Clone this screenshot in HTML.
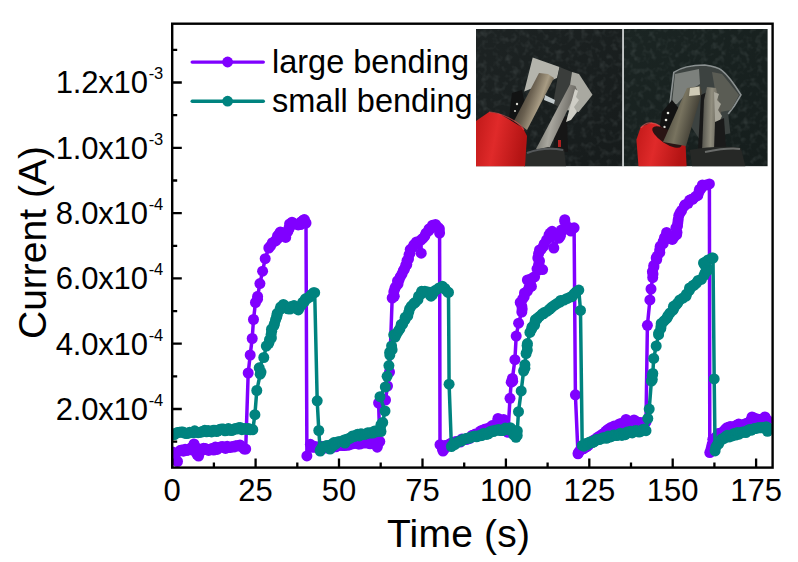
<!DOCTYPE html>
<html><head><meta charset="utf-8"><style>
html,body{margin:0;padding:0;background:#fff;}
svg{display:block;}
text{font-family:"Liberation Sans",sans-serif;fill:#000;}
</style></head><body>
<svg width="798" height="562" viewBox="0 0 798 562">
<rect width="798" height="562" fill="#fff"/>
<defs>
<linearGradient id="bgL" x1="0" y1="0" x2="1" y2="1"><stop offset="0" stop-color="#1d2323"/><stop offset="1" stop-color="#161b1b"/></linearGradient>
<linearGradient id="bgR" x1="0" y1="0" x2="1" y2="1"><stop offset="0" stop-color="#1b2523"/><stop offset="1" stop-color="#151d1c"/></linearGradient>
<filter id="tex" x="0" y="0" width="1" height="1"><feTurbulence type="fractalNoise" baseFrequency="0.16" numOctaves="2" seed="5"/><feColorMatrix values="0 0 0 0 0.45  0 0 0 0 0.52  0 0 0 0 0.52  0 0 0 0.9 -0.42"/></filter>
<linearGradient id="redg" x1="0" y1="0" x2="1" y2="0.2"><stop offset="0" stop-color="#c01818"/><stop offset="0.45" stop-color="#e02a2a"/><stop offset="1" stop-color="#b41414"/></linearGradient>
<linearGradient id="rodA" x1="0.1" y1="0.1" x2="0.9" y2="0.5"><stop offset="0" stop-color="#2a2620"/><stop offset="0.45" stop-color="#6a6050"/><stop offset="0.75" stop-color="#a89c84"/><stop offset="1" stop-color="#585040"/></linearGradient>
<linearGradient id="rodB" x1="0" y1="0" x2="1" y2="0.3"><stop offset="0" stop-color="#55554f"/><stop offset="0.5" stop-color="#a8a69e"/><stop offset="1" stop-color="#62605a"/></linearGradient>
<linearGradient id="rodC" x1="0" y1="0" x2="1" y2="0.4"><stop offset="0" stop-color="#2e2c26"/><stop offset="0.55" stop-color="#78735f"/><stop offset="1" stop-color="#34322b"/></linearGradient>
<linearGradient id="rodD" x1="0" y1="0" x2="1" y2="0.1"><stop offset="0" stop-color="#4a4a44"/><stop offset="0.5" stop-color="#908d7e"/><stop offset="1" stop-color="#55534c"/></linearGradient>
</defs>
<!-- left panel -->
<rect x="476" y="29" width="146.5" height="137.2" fill="url(#bgL)"/>
<!-- right panel -->
<rect x="623.8" y="29" width="143.8" height="137.2" fill="url(#bgR)"/>
<rect x="476" y="29" width="291.6" height="137.2" filter="url(#tex)" opacity="0.35"/>
<rect x="622.3" y="29" width="1.6" height="137.2" fill="#c4c8c8"/>

<!-- ===== LEFT PANEL ===== -->
<!-- film -->
<polygon points="532.7,57.5 559.5,67 557,78 524.2,91.6" fill="#b4b4ac"/>
<polygon points="559.5,67 572,72 566,110 553,104" fill="#3a3d3b"/>
<polygon points="572,72 579,74 592.5,94.8 586,103 578.6,111.9 566,110" fill="#a9a9a1"/>
<!-- black left jaw with teeth -->
<polygon points="512,93 522,90 528,120 518,130 509,118" fill="#121313"/>
<circle cx="517" cy="104" r="1.2" fill="#d8d8d0"/><circle cx="515" cy="111" r="1.1" fill="#c8c8c0"/>
<!-- cross pin -->
<polygon points="545,95 555,100 554,104 544,100" fill="#c2cacc"/>
<!-- left rod -->
<polygon points="539,73 548,74 554,78 527,130 514,121" fill="url(#rodA)"/>
<!-- right jaw -->
<polygon points="556,118 567,116 568,152 553,152" fill="#161616"/>
<rect x="558" y="140" width="3" height="7" fill="#b02020"/>
<polygon points="570,84.5 575.5,86 577,90 548,151 536,149" fill="url(#rodB)"/>
<polygon points="575,89 578,91 576,97 579,100 574,107 577,112 571,120 566,122" fill="#cfcec6"/>
<!-- bottom black handle -->
<polygon points="526,152 548,147 564,149 566,166.2 524,166.2" fill="#2a2c2a"/>
<path d="M527,153 C 538,149 552,148 563,150" stroke="#55585a" stroke-width="2" fill="none"/>
<!-- red cylinder -->
<polygon points="476,121 489,112 500,114 523,128 527,136 525,166.2 476,166.2" fill="url(#redg)"/>
<path d="M489,112 C 500,112 520,122 524,130" stroke="#f05050" stroke-width="1.2" fill="none" opacity="0.6"/>

<!-- ===== RIGHT PANEL ===== -->
<!-- film outer -->
<path d="M669.5,107.7 L673.8,72.4 C 680,68 692,65 704.7,65 C 712,66 719,68 721.8,70.3 C 728,75 733,82 741,94.8 L734.6,105.5 L728.2,114 L730.4,133.3 L700,140 L680,110 Z" fill="#3c4240"/>
<path d="M669.5,107.7 L673.8,72.4 C 680,68 692,65 704.7,65 C 712,66 719,68 721.8,70.3 C 728,75 733,82 741,94.8 L734.6,105.5 L728.2,114" stroke="#8a9090" stroke-width="1.6" fill="none"/>
<polygon points="675,74 699,69 700,84 688,92 677,104 672,104" fill="#7c807c"/>
<polygon points="712,72 722,74 739,95 731,110 720,112 716,96" fill="#5a5c54"/>
<!-- black jaw with white teeth -->
<polygon points="662,112 672,100 682,112 668,142 658,138" fill="#121212"/>
<circle cx="668" cy="113" r="1.3" fill="#e8e8e0"/><circle cx="666" cy="120" r="1.3" fill="#e8e8e0"/><circle cx="664.5" cy="127" r="1.2" fill="#d8d8d0"/>
<!-- red cylinder -->
<polygon points="638.5,166.2 636.4,139.7 640.7,126.9 651.4,122.6 657.8,124.7 685.5,144 686.6,166.2" fill="url(#redg)"/>
<ellipse cx="667" cy="137" rx="17" ry="6.5" transform="rotate(33 667 137)" fill="#2a1414"/>
<path d="M641,128 C 645,122 653,121 660,126" stroke="#f06060" stroke-width="1.3" fill="none" opacity="0.6"/>
<!-- left rod (dark olive) -->
<polygon points="687,88 700,86 702,92 686,146 663,142" fill="url(#rodC)"/>
<polygon points="690,88 699.5,86.5 700,95 689,96" fill="#cfcab6"/>
<!-- gap between rods -->
<polygon points="701,95 707,92 704,150 698,150" fill="#181818"/>
<!-- right jaw -->
<polygon points="707,87 716,88 721,110 722,150 702,152 704,100" fill="url(#rodD)"/>
<polygon points="714,92 719,94 717,100 721,104 718,110 722,116 719,122 722,128 718,134 720,142 716,146" fill="#a8a69a"/>
<polygon points="715,122 724,118 726,148 714,150" fill="#1a1a1a"/>
<!-- bottom handle -->
<path d="M689.8,150 C 710,146 730,146 741,148 L745.3,166.2 L692,166.2 Z" fill="#262826"/>
<path d="M705,152 C 720,149 732,148 740,149" stroke="#6a6c6a" stroke-width="2" fill="none"/>
<defs><clipPath id="pc"><rect x="172.2" y="23.7" width="600.4" height="443.9"/></clipPath></defs><g clip-path="url(#pc)"><path d="M172.6 452.0 L172.9 453.1 L175.0 455.0 L174.9 457.6 L177.5 461.5 L180.0 450.6 L181.7 449.9 L183.4 451.2 L185.1 449.3 L186.7 450.5 L188.4 449.8 L190.1 448.7 L191.8 449.9 L191.5 447.6 L194.0 444.0 L194.7 445.9 L195.2 449.5 L196.8 448.4 L197.4 452.1 L196.9 454.3 L198.6 456.0 L199.2 452.6 L200.2 449.3 L201.9 450.4 L203.6 448.2 L205.3 448.4 L206.9 449.5 L208.6 450.4 L210.3 449.2 L212.0 448.5 L213.7 450.1 L215.4 447.1 L217.1 449.4 L218.7 447.5 L220.4 446.9 L222.1 446.6 L223.8 447.0 L225.5 448.4 L227.2 446.3 L228.8 447.4 L230.5 447.4 L232.2 446.6 L233.9 447.1 L235.6 445.7 L237.3 445.7 L238.9 446.1 L240.0 445.0 L242.3 446.8 L244.2 449.0 L245.7 449.0 L248.2 373.0 L250.2 355.0 L252.2 338.5 L253.5 319.5 L255.5 302.5 L257.5 299.2 L257.6 296.5 L259.9 283.6 L262.6 271.2 L265.2 258.7 L268.8 248.0 L270.6 245.9 L272.4 242.7 L275.6 240.9 L276.0 240.0 L277.7 238.6 L277.5 236.0 L279.3 233.7 L280.4 232.0 L281.3 232.5 L283.0 235.5 L285.7 237.4 L285.6 233.5 L287.5 232.0 L288.9 229.3 L289.0 228.0 L289.6 223.9 L292.0 222.2 L295.0 224.0 L298.2 224.9 L300.6 224.5 L301.0 222.0 L303.2 220.2 L304.4 219.6 L306.0 223.0 L306.9 455.9 L310.4 444.3 L312.0 447.3 L313.7 446.9 L315.4 446.4 L317.1 447.9 L318.8 447.6 L320.6 446.2 L322.3 447.2 L324.0 447.1 L325.7 448.1 L327.4 447.7 L329.1 446.4 L330.8 448.3 L332.5 445.4 L334.2 446.1 L335.9 446.8 L337.7 444.7 L339.4 445.5 L341.1 443.8 L342.8 445.5 L344.5 445.5 L346.2 444.6 L347.9 445.3 L349.6 443.3 L351.3 444.2 L353.1 443.6 L354.8 443.3 L356.5 442.8 L358.2 443.9 L359.9 444.1 L361.6 442.6 L363.3 443.1 L365.0 441.2 L366.7 443.1 L368.4 442.8 L370.2 443.8 L371.9 443.2 L373.6 441.5 L375.3 441.7 L375.5 443.9 L377.2 447.2 L378.4 443.3 L379.8 441.4 L378.6 403.0 L381.9 400.8 L385.5 400.0 L387.5 386.0 L389.5 372.0 L392.2 298.0 L394.3 296.3 L393.8 292.0 L394.8 288.7 L395.6 286.9 L398.0 284.1 L397.5 280.9 L399.0 280.0 L400.2 276.9 L402.0 274.0 L403.3 270.7 L404.5 269.0 L405.7 265.4 L406.8 264.5 L407.0 260.6 L408.5 259.0 L409.0 254.8 L410.0 253.2 L410.2 249.6 L413.0 247.0 L414.0 244.7 L416.4 242.0 L421.2 253.2 L421.0 240.0 L422.7 238.4 L424.8 236.1 L426.0 233.2 L428.6 230.8 L429.0 229.0 L430.3 228.5 L432.5 225.2 L435.5 224.5 L435.9 226.7 L438.3 227.6 L439.4 229.0 L439.6 233.0 L440.0 444.7 L442.4 448.9 L443.0 451.0 L444.4 448.9 L445.0 445.6 L446.7 446.2 L448.4 444.7 L450.1 443.8 L451.7 443.0 L453.4 444.4 L455.1 441.8 L456.8 441.5 L458.5 441.3 L460.2 442.0 L461.9 439.0 L463.5 439.4 L465.2 439.1 L466.9 439.4 L468.6 438.5 L470.3 438.0 L472.0 435.4 L473.7 435.0 L475.3 434.1 L477.0 434.9 L478.7 434.3 L480.4 431.1 L482.1 430.4 L483.8 429.8 L485.5 429.0 L487.1 429.1 L488.8 428.7 L490.5 427.1 L492.2 425.6 L493.9 426.2 L495.6 425.4 L497.7 420.9 L498.0 418.5 L498.5 422.2 L498.9 425.8 L500.6 424.3 L502.3 422.9 L503.6 419.5 L508.0 432.3 L510.0 398.3 L511.2 382.2 L512.7 381.2 L512.4 378.4 L514.9 359.7 L516.2 336.1 L518.6 323.2 L521.8 312.0 L522.2 309.0 L521.8 306.1 L520.2 302.4 L522.7 298.8 L524.2 296.8 L524.5 293.0 L527.4 291.2 L529.0 287.7 L531.4 286.4 L530.3 283.4 L527.4 280.0 L530.2 279.3 L532.7 277.8 L534.6 276.8 L542.6 269.6 L538.4 270.0 L537.0 268.8 L538.5 266.2 L538.8 264.0 L539.5 261.0 L537.8 258.0 L538.6 253.6 L539.5 250.0 L541.1 249.4 L543.4 246.4 L544.2 243.9 L546.6 240.0 L549.1 237.5 L549.0 235.0 L550.2 233.1 L552.1 231.3 L553.8 248.0 L559.0 238.2 L560.3 236.2 L560.9 233.2 L561.3 230.1 L564.8 219.7 L564.8 221.4 L566.4 225.8 L568.3 227.8 L569.1 229.6 L571.0 231.0 L571.2 228.2 L574.1 227.8 L575.4 394.8 L578.0 453.8 L578.4 452.6 L580.0 450.5 L581.7 447.7 L583.4 448.8 L585.1 447.4 L586.8 446.5 L588.6 445.2 L590.3 443.0 L592.0 442.0 L593.7 440.1 L595.4 440.3 L597.1 437.7 L598.8 436.6 L600.5 435.8 L602.2 434.3 L603.9 433.4 L605.7 431.3 L607.4 429.8 L609.1 428.8 L610.8 427.6 L612.5 427.5 L614.2 425.9 L615.9 427.3 L617.6 425.9 L619.3 423.9 L621.1 423.6 L622.8 423.4 L624.5 423.0 L625.8 421.8 L626.0 419.5 L626.4 421.5 L627.9 423.4 L629.6 423.4 L631.3 422.0 L633.0 422.3 L634.0 420.0 L636.4 421.6 L638.2 422.4 L639.9 422.4 L641.6 424.0 L643.3 422.4 L645.0 422.3 L646.0 422.0 L647.4 325.3 L649.9 299.9 L651.0 289.0 L652.7 277.5 L653.0 273.9 L652.4 271.7 L653.9 267.1 L653.8 265.4 L656.7 259.6 L656.2 257.9 L657.3 256.1 L659.8 252.4 L659.7 249.8 L660.2 246.3 L663.2 243.6 L663.1 241.7 L664.5 237.6 L665.5 236.8 L666.6 232.4 L667.0 235.1 L669.5 236.0 L671.0 238.8 L672.4 239.4 L674.5 236.3 L676.6 234.7 L677.0 232.4 L675.9 227.8 L677.5 226.0 L677.8 222.7 L678.2 219.7 L678.8 215.6 L680.0 213.1 L681.6 210.5 L684.3 206.2 L685.1 204.7 L688.1 203.3 L689.7 200.1 L692.5 199.0 L692.9 199.0 L695.5 196.6 L697.8 195.4 L699.0 192.0 L699.5 189.3 L701.0 188.7 L702.4 185.0 L706.0 185.0 L709.4 183.9 L709.8 452.6 L710.9 449.6 L711.5 447.4 L712.1 444.4 L713.2 442.7 L712.8 439.3 L714.9 438.2 L716.6 436.6 L718.3 433.5 L720.0 433.5 L721.7 433.4 L723.4 431.5 L725.1 429.6 L726.8 427.8 L728.5 427.6 L730.2 426.5 L731.9 427.8 L733.6 426.5 L735.3 426.8 L737.0 424.9 L738.7 424.1 L740.3 425.3 L742.0 425.3 L743.7 424.4 L745.4 423.8 L747.1 423.3 L748.8 422.6 L750.5 420.6 L752.2 418.2 L752.0 417.0 L754.2 418.1 L753.9 420.5 L755.6 419.3 L757.3 419.0 L759.0 419.6 L760.7 419.2 L762.4 420.3 L764.1 420.9 L763.9 419.0 L765.0 417.0 L765.4 418.3 L767.5 420.3" fill="none" stroke="#8000ff" stroke-width="3.5" stroke-linejoin="round"/>
<g fill="#8000ff"><circle cx="172.6" cy="452.0" r="5.5"/><circle cx="172.9" cy="453.1" r="5.5"/><circle cx="175.0" cy="455.0" r="5.5"/><circle cx="174.9" cy="457.6" r="5.5"/><circle cx="177.5" cy="461.5" r="5.5"/><circle cx="180.0" cy="450.6" r="5.5"/><circle cx="181.7" cy="449.9" r="5.5"/><circle cx="183.4" cy="451.2" r="5.5"/><circle cx="185.1" cy="449.3" r="5.5"/><circle cx="186.7" cy="450.5" r="5.5"/><circle cx="188.4" cy="449.8" r="5.5"/><circle cx="190.1" cy="448.7" r="5.5"/><circle cx="191.8" cy="449.9" r="5.5"/><circle cx="191.5" cy="447.6" r="5.5"/><circle cx="194.0" cy="444.0" r="5.5"/><circle cx="194.7" cy="445.9" r="5.5"/><circle cx="195.2" cy="449.5" r="5.5"/><circle cx="196.8" cy="448.4" r="5.5"/><circle cx="197.4" cy="452.1" r="5.5"/><circle cx="196.9" cy="454.3" r="5.5"/><circle cx="198.6" cy="456.0" r="5.5"/><circle cx="199.2" cy="452.6" r="5.5"/><circle cx="200.2" cy="449.3" r="5.5"/><circle cx="201.9" cy="450.4" r="5.5"/><circle cx="203.6" cy="448.2" r="5.5"/><circle cx="205.3" cy="448.4" r="5.5"/><circle cx="206.9" cy="449.5" r="5.5"/><circle cx="208.6" cy="450.4" r="5.5"/><circle cx="210.3" cy="449.2" r="5.5"/><circle cx="212.0" cy="448.5" r="5.5"/><circle cx="213.7" cy="450.1" r="5.5"/><circle cx="215.4" cy="447.1" r="5.5"/><circle cx="217.1" cy="449.4" r="5.5"/><circle cx="218.7" cy="447.5" r="5.5"/><circle cx="220.4" cy="446.9" r="5.5"/><circle cx="222.1" cy="446.6" r="5.5"/><circle cx="223.8" cy="447.0" r="5.5"/><circle cx="225.5" cy="448.4" r="5.5"/><circle cx="227.2" cy="446.3" r="5.5"/><circle cx="228.8" cy="447.4" r="5.5"/><circle cx="230.5" cy="447.4" r="5.5"/><circle cx="232.2" cy="446.6" r="5.5"/><circle cx="233.9" cy="447.1" r="5.5"/><circle cx="235.6" cy="445.7" r="5.5"/><circle cx="237.3" cy="445.7" r="5.5"/><circle cx="238.9" cy="446.1" r="5.5"/><circle cx="240.0" cy="445.0" r="5.5"/><circle cx="242.3" cy="446.8" r="5.5"/><circle cx="244.2" cy="449.0" r="5.5"/><circle cx="245.7" cy="449.0" r="5.5"/><circle cx="248.2" cy="373.0" r="5.5"/><circle cx="250.2" cy="355.0" r="5.5"/><circle cx="252.2" cy="338.5" r="5.5"/><circle cx="253.5" cy="319.5" r="5.5"/><circle cx="255.5" cy="302.5" r="5.5"/><circle cx="257.5" cy="299.2" r="5.5"/><circle cx="257.6" cy="296.5" r="5.5"/><circle cx="259.9" cy="283.6" r="5.5"/><circle cx="262.6" cy="271.2" r="5.5"/><circle cx="265.2" cy="258.7" r="5.5"/><circle cx="268.8" cy="248.0" r="5.5"/><circle cx="270.6" cy="245.9" r="5.5"/><circle cx="272.4" cy="242.7" r="5.5"/><circle cx="275.6" cy="240.9" r="5.5"/><circle cx="276.0" cy="240.0" r="5.5"/><circle cx="277.7" cy="238.6" r="5.5"/><circle cx="277.5" cy="236.0" r="5.5"/><circle cx="279.3" cy="233.7" r="5.5"/><circle cx="280.4" cy="232.0" r="5.5"/><circle cx="281.3" cy="232.5" r="5.5"/><circle cx="283.0" cy="235.5" r="5.5"/><circle cx="285.7" cy="237.4" r="5.5"/><circle cx="285.6" cy="233.5" r="5.5"/><circle cx="287.5" cy="232.0" r="5.5"/><circle cx="288.9" cy="229.3" r="5.5"/><circle cx="289.0" cy="228.0" r="5.5"/><circle cx="289.6" cy="223.9" r="5.5"/><circle cx="292.0" cy="222.2" r="5.5"/><circle cx="295.0" cy="224.0" r="5.5"/><circle cx="298.2" cy="224.9" r="5.5"/><circle cx="300.6" cy="224.5" r="5.5"/><circle cx="301.0" cy="222.0" r="5.5"/><circle cx="303.2" cy="220.2" r="5.5"/><circle cx="304.4" cy="219.6" r="5.5"/><circle cx="306.0" cy="223.0" r="5.5"/><circle cx="306.9" cy="455.9" r="5.5"/><circle cx="310.4" cy="444.3" r="5.5"/><circle cx="312.0" cy="447.3" r="5.5"/><circle cx="313.7" cy="446.9" r="5.5"/><circle cx="315.4" cy="446.4" r="5.5"/><circle cx="317.1" cy="447.9" r="5.5"/><circle cx="318.8" cy="447.6" r="5.5"/><circle cx="320.6" cy="446.2" r="5.5"/><circle cx="322.3" cy="447.2" r="5.5"/><circle cx="324.0" cy="447.1" r="5.5"/><circle cx="325.7" cy="448.1" r="5.5"/><circle cx="327.4" cy="447.7" r="5.5"/><circle cx="329.1" cy="446.4" r="5.5"/><circle cx="330.8" cy="448.3" r="5.5"/><circle cx="332.5" cy="445.4" r="5.5"/><circle cx="334.2" cy="446.1" r="5.5"/><circle cx="335.9" cy="446.8" r="5.5"/><circle cx="337.7" cy="444.7" r="5.5"/><circle cx="339.4" cy="445.5" r="5.5"/><circle cx="341.1" cy="443.8" r="5.5"/><circle cx="342.8" cy="445.5" r="5.5"/><circle cx="344.5" cy="445.5" r="5.5"/><circle cx="346.2" cy="444.6" r="5.5"/><circle cx="347.9" cy="445.3" r="5.5"/><circle cx="349.6" cy="443.3" r="5.5"/><circle cx="351.3" cy="444.2" r="5.5"/><circle cx="353.1" cy="443.6" r="5.5"/><circle cx="354.8" cy="443.3" r="5.5"/><circle cx="356.5" cy="442.8" r="5.5"/><circle cx="358.2" cy="443.9" r="5.5"/><circle cx="359.9" cy="444.1" r="5.5"/><circle cx="361.6" cy="442.6" r="5.5"/><circle cx="363.3" cy="443.1" r="5.5"/><circle cx="365.0" cy="441.2" r="5.5"/><circle cx="366.7" cy="443.1" r="5.5"/><circle cx="368.4" cy="442.8" r="5.5"/><circle cx="370.2" cy="443.8" r="5.5"/><circle cx="371.9" cy="443.2" r="5.5"/><circle cx="373.6" cy="441.5" r="5.5"/><circle cx="375.3" cy="441.7" r="5.5"/><circle cx="375.5" cy="443.9" r="5.5"/><circle cx="377.2" cy="447.2" r="5.5"/><circle cx="378.4" cy="443.3" r="5.5"/><circle cx="379.8" cy="441.4" r="5.5"/><circle cx="378.6" cy="403.0" r="5.5"/><circle cx="381.9" cy="400.8" r="5.5"/><circle cx="385.5" cy="400.0" r="5.5"/><circle cx="387.5" cy="386.0" r="5.5"/><circle cx="389.5" cy="372.0" r="5.5"/><circle cx="392.2" cy="298.0" r="5.5"/><circle cx="394.3" cy="296.3" r="5.5"/><circle cx="393.8" cy="292.0" r="5.5"/><circle cx="394.8" cy="288.7" r="5.5"/><circle cx="395.6" cy="286.9" r="5.5"/><circle cx="398.0" cy="284.1" r="5.5"/><circle cx="397.5" cy="280.9" r="5.5"/><circle cx="399.0" cy="280.0" r="5.5"/><circle cx="400.2" cy="276.9" r="5.5"/><circle cx="402.0" cy="274.0" r="5.5"/><circle cx="403.3" cy="270.7" r="5.5"/><circle cx="404.5" cy="269.0" r="5.5"/><circle cx="405.7" cy="265.4" r="5.5"/><circle cx="406.8" cy="264.5" r="5.5"/><circle cx="407.0" cy="260.6" r="5.5"/><circle cx="408.5" cy="259.0" r="5.5"/><circle cx="409.0" cy="254.8" r="5.5"/><circle cx="410.0" cy="253.2" r="5.5"/><circle cx="410.2" cy="249.6" r="5.5"/><circle cx="413.0" cy="247.0" r="5.5"/><circle cx="414.0" cy="244.7" r="5.5"/><circle cx="416.4" cy="242.0" r="5.5"/><circle cx="421.2" cy="253.2" r="5.5"/><circle cx="421.0" cy="240.0" r="5.5"/><circle cx="422.7" cy="238.4" r="5.5"/><circle cx="424.8" cy="236.1" r="5.5"/><circle cx="426.0" cy="233.2" r="5.5"/><circle cx="428.6" cy="230.8" r="5.5"/><circle cx="429.0" cy="229.0" r="5.5"/><circle cx="430.3" cy="228.5" r="5.5"/><circle cx="432.5" cy="225.2" r="5.5"/><circle cx="435.5" cy="224.5" r="5.5"/><circle cx="435.9" cy="226.7" r="5.5"/><circle cx="438.3" cy="227.6" r="5.5"/><circle cx="439.4" cy="229.0" r="5.5"/><circle cx="439.6" cy="233.0" r="5.5"/><circle cx="440.0" cy="444.7" r="5.5"/><circle cx="442.4" cy="448.9" r="5.5"/><circle cx="443.0" cy="451.0" r="5.5"/><circle cx="444.4" cy="448.9" r="5.5"/><circle cx="445.0" cy="445.6" r="5.5"/><circle cx="446.7" cy="446.2" r="5.5"/><circle cx="448.4" cy="444.7" r="5.5"/><circle cx="450.1" cy="443.8" r="5.5"/><circle cx="451.7" cy="443.0" r="5.5"/><circle cx="453.4" cy="444.4" r="5.5"/><circle cx="455.1" cy="441.8" r="5.5"/><circle cx="456.8" cy="441.5" r="5.5"/><circle cx="458.5" cy="441.3" r="5.5"/><circle cx="460.2" cy="442.0" r="5.5"/><circle cx="461.9" cy="439.0" r="5.5"/><circle cx="463.5" cy="439.4" r="5.5"/><circle cx="465.2" cy="439.1" r="5.5"/><circle cx="466.9" cy="439.4" r="5.5"/><circle cx="468.6" cy="438.5" r="5.5"/><circle cx="470.3" cy="438.0" r="5.5"/><circle cx="472.0" cy="435.4" r="5.5"/><circle cx="473.7" cy="435.0" r="5.5"/><circle cx="475.3" cy="434.1" r="5.5"/><circle cx="477.0" cy="434.9" r="5.5"/><circle cx="478.7" cy="434.3" r="5.5"/><circle cx="480.4" cy="431.1" r="5.5"/><circle cx="482.1" cy="430.4" r="5.5"/><circle cx="483.8" cy="429.8" r="5.5"/><circle cx="485.5" cy="429.0" r="5.5"/><circle cx="487.1" cy="429.1" r="5.5"/><circle cx="488.8" cy="428.7" r="5.5"/><circle cx="490.5" cy="427.1" r="5.5"/><circle cx="492.2" cy="425.6" r="5.5"/><circle cx="493.9" cy="426.2" r="5.5"/><circle cx="495.6" cy="425.4" r="5.5"/><circle cx="497.7" cy="420.9" r="5.5"/><circle cx="498.0" cy="418.5" r="5.5"/><circle cx="498.5" cy="422.2" r="5.5"/><circle cx="498.9" cy="425.8" r="5.5"/><circle cx="500.6" cy="424.3" r="5.5"/><circle cx="502.3" cy="422.9" r="5.5"/><circle cx="503.6" cy="419.5" r="5.5"/><circle cx="508.0" cy="432.3" r="5.5"/><circle cx="510.0" cy="398.3" r="5.5"/><circle cx="511.2" cy="382.2" r="5.5"/><circle cx="512.7" cy="381.2" r="5.5"/><circle cx="512.4" cy="378.4" r="5.5"/><circle cx="514.9" cy="359.7" r="5.5"/><circle cx="516.2" cy="336.1" r="5.5"/><circle cx="518.6" cy="323.2" r="5.5"/><circle cx="521.8" cy="312.0" r="5.5"/><circle cx="522.2" cy="309.0" r="5.5"/><circle cx="521.8" cy="306.1" r="5.5"/><circle cx="520.2" cy="302.4" r="5.5"/><circle cx="522.7" cy="298.8" r="5.5"/><circle cx="524.2" cy="296.8" r="5.5"/><circle cx="524.5" cy="293.0" r="5.5"/><circle cx="527.4" cy="291.2" r="5.5"/><circle cx="529.0" cy="287.7" r="5.5"/><circle cx="531.4" cy="286.4" r="5.5"/><circle cx="530.3" cy="283.4" r="5.5"/><circle cx="527.4" cy="280.0" r="5.5"/><circle cx="530.2" cy="279.3" r="5.5"/><circle cx="532.7" cy="277.8" r="5.5"/><circle cx="534.6" cy="276.8" r="5.5"/><circle cx="542.6" cy="269.6" r="5.5"/><circle cx="538.4" cy="270.0" r="5.5"/><circle cx="537.0" cy="268.8" r="5.5"/><circle cx="538.5" cy="266.2" r="5.5"/><circle cx="538.8" cy="264.0" r="5.5"/><circle cx="539.5" cy="261.0" r="5.5"/><circle cx="537.8" cy="258.0" r="5.5"/><circle cx="538.6" cy="253.6" r="5.5"/><circle cx="539.5" cy="250.0" r="5.5"/><circle cx="541.1" cy="249.4" r="5.5"/><circle cx="543.4" cy="246.4" r="5.5"/><circle cx="544.2" cy="243.9" r="5.5"/><circle cx="546.6" cy="240.0" r="5.5"/><circle cx="549.1" cy="237.5" r="5.5"/><circle cx="549.0" cy="235.0" r="5.5"/><circle cx="550.2" cy="233.1" r="5.5"/><circle cx="552.1" cy="231.3" r="5.5"/><circle cx="553.8" cy="248.0" r="5.5"/><circle cx="559.0" cy="238.2" r="5.5"/><circle cx="560.3" cy="236.2" r="5.5"/><circle cx="560.9" cy="233.2" r="5.5"/><circle cx="561.3" cy="230.1" r="5.5"/><circle cx="564.8" cy="219.7" r="5.5"/><circle cx="564.8" cy="221.4" r="5.5"/><circle cx="566.4" cy="225.8" r="5.5"/><circle cx="568.3" cy="227.8" r="5.5"/><circle cx="569.1" cy="229.6" r="5.5"/><circle cx="571.0" cy="231.0" r="5.5"/><circle cx="571.2" cy="228.2" r="5.5"/><circle cx="574.1" cy="227.8" r="5.5"/><circle cx="575.4" cy="394.8" r="5.5"/><circle cx="578.0" cy="453.8" r="5.5"/><circle cx="578.4" cy="452.6" r="5.5"/><circle cx="580.0" cy="450.5" r="5.5"/><circle cx="581.7" cy="447.7" r="5.5"/><circle cx="583.4" cy="448.8" r="5.5"/><circle cx="585.1" cy="447.4" r="5.5"/><circle cx="586.8" cy="446.5" r="5.5"/><circle cx="588.6" cy="445.2" r="5.5"/><circle cx="590.3" cy="443.0" r="5.5"/><circle cx="592.0" cy="442.0" r="5.5"/><circle cx="593.7" cy="440.1" r="5.5"/><circle cx="595.4" cy="440.3" r="5.5"/><circle cx="597.1" cy="437.7" r="5.5"/><circle cx="598.8" cy="436.6" r="5.5"/><circle cx="600.5" cy="435.8" r="5.5"/><circle cx="602.2" cy="434.3" r="5.5"/><circle cx="603.9" cy="433.4" r="5.5"/><circle cx="605.7" cy="431.3" r="5.5"/><circle cx="607.4" cy="429.8" r="5.5"/><circle cx="609.1" cy="428.8" r="5.5"/><circle cx="610.8" cy="427.6" r="5.5"/><circle cx="612.5" cy="427.5" r="5.5"/><circle cx="614.2" cy="425.9" r="5.5"/><circle cx="615.9" cy="427.3" r="5.5"/><circle cx="617.6" cy="425.9" r="5.5"/><circle cx="619.3" cy="423.9" r="5.5"/><circle cx="621.1" cy="423.6" r="5.5"/><circle cx="622.8" cy="423.4" r="5.5"/><circle cx="624.5" cy="423.0" r="5.5"/><circle cx="625.8" cy="421.8" r="5.5"/><circle cx="626.0" cy="419.5" r="5.5"/><circle cx="626.4" cy="421.5" r="5.5"/><circle cx="627.9" cy="423.4" r="5.5"/><circle cx="629.6" cy="423.4" r="5.5"/><circle cx="631.3" cy="422.0" r="5.5"/><circle cx="633.0" cy="422.3" r="5.5"/><circle cx="634.0" cy="420.0" r="5.5"/><circle cx="636.4" cy="421.6" r="5.5"/><circle cx="638.2" cy="422.4" r="5.5"/><circle cx="639.9" cy="422.4" r="5.5"/><circle cx="641.6" cy="424.0" r="5.5"/><circle cx="643.3" cy="422.4" r="5.5"/><circle cx="645.0" cy="422.3" r="5.5"/><circle cx="646.0" cy="422.0" r="5.5"/><circle cx="647.4" cy="325.3" r="5.5"/><circle cx="649.9" cy="299.9" r="5.5"/><circle cx="651.0" cy="289.0" r="5.5"/><circle cx="652.7" cy="277.5" r="5.5"/><circle cx="653.0" cy="273.9" r="5.5"/><circle cx="652.4" cy="271.7" r="5.5"/><circle cx="653.9" cy="267.1" r="5.5"/><circle cx="653.8" cy="265.4" r="5.5"/><circle cx="656.7" cy="259.6" r="5.5"/><circle cx="656.2" cy="257.9" r="5.5"/><circle cx="657.3" cy="256.1" r="5.5"/><circle cx="659.8" cy="252.4" r="5.5"/><circle cx="659.7" cy="249.8" r="5.5"/><circle cx="660.2" cy="246.3" r="5.5"/><circle cx="663.2" cy="243.6" r="5.5"/><circle cx="663.1" cy="241.7" r="5.5"/><circle cx="664.5" cy="237.6" r="5.5"/><circle cx="665.5" cy="236.8" r="5.5"/><circle cx="666.6" cy="232.4" r="5.5"/><circle cx="667.0" cy="235.1" r="5.5"/><circle cx="669.5" cy="236.0" r="5.5"/><circle cx="671.0" cy="238.8" r="5.5"/><circle cx="672.4" cy="239.4" r="5.5"/><circle cx="674.5" cy="236.3" r="5.5"/><circle cx="676.6" cy="234.7" r="5.5"/><circle cx="677.0" cy="232.4" r="5.5"/><circle cx="675.9" cy="227.8" r="5.5"/><circle cx="677.5" cy="226.0" r="5.5"/><circle cx="677.8" cy="222.7" r="5.5"/><circle cx="678.2" cy="219.7" r="5.5"/><circle cx="678.8" cy="215.6" r="5.5"/><circle cx="680.0" cy="213.1" r="5.5"/><circle cx="681.6" cy="210.5" r="5.5"/><circle cx="684.3" cy="206.2" r="5.5"/><circle cx="685.1" cy="204.7" r="5.5"/><circle cx="688.1" cy="203.3" r="5.5"/><circle cx="689.7" cy="200.1" r="5.5"/><circle cx="692.5" cy="199.0" r="5.5"/><circle cx="692.9" cy="199.0" r="5.5"/><circle cx="695.5" cy="196.6" r="5.5"/><circle cx="697.8" cy="195.4" r="5.5"/><circle cx="699.0" cy="192.0" r="5.5"/><circle cx="699.5" cy="189.3" r="5.5"/><circle cx="701.0" cy="188.7" r="5.5"/><circle cx="702.4" cy="185.0" r="5.5"/><circle cx="706.0" cy="185.0" r="5.5"/><circle cx="709.4" cy="183.9" r="5.5"/><circle cx="709.8" cy="452.6" r="5.5"/><circle cx="710.9" cy="449.6" r="5.5"/><circle cx="711.5" cy="447.4" r="5.5"/><circle cx="712.1" cy="444.4" r="5.5"/><circle cx="713.2" cy="442.7" r="5.5"/><circle cx="712.8" cy="439.3" r="5.5"/><circle cx="714.9" cy="438.2" r="5.5"/><circle cx="716.6" cy="436.6" r="5.5"/><circle cx="718.3" cy="433.5" r="5.5"/><circle cx="720.0" cy="433.5" r="5.5"/><circle cx="721.7" cy="433.4" r="5.5"/><circle cx="723.4" cy="431.5" r="5.5"/><circle cx="725.1" cy="429.6" r="5.5"/><circle cx="726.8" cy="427.8" r="5.5"/><circle cx="728.5" cy="427.6" r="5.5"/><circle cx="730.2" cy="426.5" r="5.5"/><circle cx="731.9" cy="427.8" r="5.5"/><circle cx="733.6" cy="426.5" r="5.5"/><circle cx="735.3" cy="426.8" r="5.5"/><circle cx="737.0" cy="424.9" r="5.5"/><circle cx="738.7" cy="424.1" r="5.5"/><circle cx="740.3" cy="425.3" r="5.5"/><circle cx="742.0" cy="425.3" r="5.5"/><circle cx="743.7" cy="424.4" r="5.5"/><circle cx="745.4" cy="423.8" r="5.5"/><circle cx="747.1" cy="423.3" r="5.5"/><circle cx="748.8" cy="422.6" r="5.5"/><circle cx="750.5" cy="420.6" r="5.5"/><circle cx="752.2" cy="418.2" r="5.5"/><circle cx="752.0" cy="417.0" r="5.5"/><circle cx="754.2" cy="418.1" r="5.5"/><circle cx="753.9" cy="420.5" r="5.5"/><circle cx="755.6" cy="419.3" r="5.5"/><circle cx="757.3" cy="419.0" r="5.5"/><circle cx="759.0" cy="419.6" r="5.5"/><circle cx="760.7" cy="419.2" r="5.5"/><circle cx="762.4" cy="420.3" r="5.5"/><circle cx="764.1" cy="420.9" r="5.5"/><circle cx="763.9" cy="419.0" r="5.5"/><circle cx="765.0" cy="417.0" r="5.5"/><circle cx="765.4" cy="418.3" r="5.5"/><circle cx="767.5" cy="420.3" r="5.5"/></g>
<path d="M172.8 434.8 L174.5 434.6 L176.2 432.9 L177.9 432.4 L179.5 432.3 L181.2 432.1 L182.9 432.0 L184.6 433.0 L186.3 433.6 L188.0 433.3 L189.7 432.2 L191.3 432.6 L193.0 432.8 L194.7 430.8 L196.4 432.2 L198.1 432.7 L199.8 432.3 L201.4 432.1 L203.1 431.2 L204.8 430.3 L206.5 431.8 L208.2 430.5 L209.9 431.6 L211.6 431.9 L213.2 430.3 L214.9 430.2 L216.6 431.5 L218.3 430.8 L220.0 429.2 L221.7 429.0 L223.4 428.9 L225.0 430.8 L226.7 430.4 L228.4 428.6 L230.1 430.2 L231.8 430.5 L233.5 429.5 L235.1 428.6 L236.8 429.0 L238.5 427.8 L240.2 427.4 L241.9 429.7 L243.6 428.8 L245.3 428.4 L246.9 429.6 L248.6 428.5 L250.3 429.8 L252.8 429.7 L254.9 414.7 L256.8 390.5 L260.2 374.2 L261.0 372.1 L259.2 367.8 L263.8 357.5 L266.3 346.1 L268.8 343.3 L269.5 339.7 L271.4 338.1 L271.1 334.6 L271.7 331.2 L271.5 329.2 L273.8 325.9 L274.5 323.7 L275.5 320.0 L276.7 317.0 L277.0 315.2 L277.2 313.5 L280.0 309.5 L280.7 306.9 L283.4 304.5 L285.1 306.1 L287.7 308.8 L290.0 309.0 L291.0 306.5 L294.0 305.6 L295.5 308.2 L298.3 309.9 L299.3 307.6 L301.5 305.0 L302.8 302.2 L304.7 301.3 L305.4 298.8 L308.0 298.0 L310.6 296.5 L311.0 295.0 L313.3 292.8 L314.7 292.7 L317.2 400.8 L318.8 430.5 L320.2 451.0 L320.3 450.2 L322.0 447.2 L323.7 446.7 L325.4 446.1 L327.1 445.4 L328.8 445.7 L330.0 449.0 L332.5 446.4 L332.2 444.0 L333.9 442.6 L335.6 444.2 L337.3 442.0 L339.0 441.7 L340.7 441.5 L342.4 441.8 L344.1 439.9 L345.0 443.0 L345.2 440.1 L347.5 439.0 L349.2 438.5 L350.8 437.9 L352.5 435.9 L354.2 436.6 L355.9 435.3 L357.6 434.2 L359.3 435.9 L361.0 433.7 L362.7 434.2 L364.4 434.6 L366.1 433.8 L367.8 432.8 L369.5 433.0 L371.2 432.8 L372.9 433.1 L374.6 430.9 L376.3 431.8 L378.0 430.6 L381.0 431.6 L380.4 428.1 L381.0 424.7 L382.7 422.4 L385.0 411.0 L380.0 396.7 L385.3 387.0 L387.1 376.3 L388.9 365.6 L389.8 355.0 L389.7 352.2 L392.1 349.7 L391.6 346.0 L393.7 334.8 L395.1 337.1 L396.5 334.0 L398.4 331.0 L400.0 328.5 L401.2 324.4 L402.7 324.0 L405.0 319.8 L405.2 317.3 L407.8 315.8 L408.7 312.3 L409.6 308.8 L411.3 306.2 L413.7 303.6 L415.2 302.4 L417.9 299.7 L418.6 296.2 L421.0 294.0 L421.6 291.3 L424.9 291.2 L428.0 292.0 L430.1 295.2 L431.1 296.2 L432.7 294.3 L433.0 291.7 L436.1 289.9 L439.0 288.0 L442.3 286.2 L444.8 288.5 L445.0 289.0 L447.7 292.0 L448.5 292.4 L449.1 384.2 L451.4 446.5 L453.0 444.4 L454.7 444.6 L456.4 442.8 L458.1 441.8 L459.7 441.1 L461.4 441.0 L463.1 439.3 L464.8 439.2 L466.5 438.5 L468.2 438.0 L469.9 438.0 L471.5 436.9 L473.2 436.6 L474.9 436.0 L476.6 436.8 L478.3 435.8 L480.0 435.8 L481.7 435.6 L483.3 433.4 L485.0 433.8 L486.7 434.4 L488.4 433.8 L490.1 431.5 L491.8 431.1 L493.5 431.5 L495.1 430.2 L496.8 430.2 L498.5 429.4 L500.2 430.6 L501.9 430.5 L503.6 430.4 L505.3 428.1 L506.9 429.4 L508.6 429.2 L510.3 427.7 L512.0 429.5 L512.6 431.0 L513.7 434.8 L516.0 437.3 L517.2 435.4 L517.3 431.0 L518.5 411.7 L521.2 390.9 L523.6 371.0 L524.9 368.3 L524.9 364.7 L526.1 353.5 L527.3 350.1 L527.1 345.6 L527.4 343.6 L529.9 332.4 L531.7 329.0 L532.0 327.0 L534.6 325.1 L534.9 322.4 L535.4 319.7 L537.0 319.0 L537.7 318.0 L539.8 316.2 L542.2 313.9 L543.4 313.8 L544.1 312.6 L547.3 311.2 L549.4 309.3 L551.0 308.0 L552.1 306.8 L554.8 305.0 L556.9 303.6 L560.0 302.0 L560.6 300.4 L564.0 300.0 L567.0 298.5 L570.4 296.9 L572.1 296.7 L574.0 294.0 L576.0 292.0 L578.8 290.1 L580.5 310.4 L582.2 445.4 L584.0 446.2 L585.7 443.4 L587.4 444.5 L589.2 442.2 L590.9 441.7 L592.6 442.6 L594.3 441.7 L596.1 439.5 L597.8 439.7 L599.5 439.5 L601.2 438.6 L602.9 437.8 L604.7 437.7 L606.4 438.3 L608.1 436.1 L609.8 437.1 L611.6 436.4 L613.3 434.9 L615.0 435.3 L616.7 435.6 L618.4 434.9 L620.2 433.3 L621.9 435.4 L623.6 434.6 L625.3 434.7 L627.1 432.1 L628.8 432.2 L630.5 431.3 L632.2 432.9 L633.9 431.3 L635.7 430.6 L637.4 431.0 L639.1 432.0 L640.8 431.4 L642.6 429.6 L644.3 429.0 L646.0 430.7 L647.8 418.4 L649.2 409.1 L651.4 381.0 L652.3 379.6 L652.3 375.3 L652.8 373.5 L653.7 358.4 L656.2 346.0 L658.6 334.7 L658.7 333.1 L660.8 328.4 L661.1 326.0 L661.2 323.5 L664.0 321.0 L666.2 318.9 L667.4 317.3 L668.0 315.6 L670.0 313.0 L673.0 310.0 L673.6 308.6 L673.5 306.3 L676.0 305.0 L677.7 303.0 L679.8 299.9 L683.0 298.0 L686.1 296.1 L686.4 294.2 L689.1 290.7 L689.6 288.0 L690.5 288.1 L693.0 285.5 L694.2 285.1 L696.5 283.0 L698.1 280.4 L701.3 279.4 L703.9 275.6 L705.0 273.0 L707.5 270.7 L707.5 268.5 L704.6 264.9 L703.5 262.9 L705.5 261.9 L708.0 260.0 L711.8 258.1 L713.0 258.1 L714.2 378.9 L715.1 450.9 L715.8 447.2 L717.0 445.2 L718.7 443.8 L720.4 440.5 L722.1 438.7 L723.8 438.7 L725.5 436.7 L727.2 435.3 L728.9 437.1 L730.6 435.9 L732.3 435.9 L734.0 433.5 L735.7 435.1 L737.4 432.6 L739.1 434.2 L740.8 432.7 L742.5 432.0 L744.2 432.1 L745.9 432.6 L747.6 430.4 L749.3 429.6 L751.0 430.3 L752.7 429.2 L754.4 428.6 L756.1 428.4 L757.8 427.8 L759.5 427.8 L761.2 427.8 L762.9 427.5 L764.6 428.3 L766.3 426.8 L768.2 428.0 L767.5 431.3" fill="none" stroke="#00837f" stroke-width="3.5" stroke-linejoin="round"/>
<g fill="#00837f"><circle cx="172.8" cy="434.8" r="5.5"/><circle cx="174.5" cy="434.6" r="5.5"/><circle cx="176.2" cy="432.9" r="5.5"/><circle cx="177.9" cy="432.4" r="5.5"/><circle cx="179.5" cy="432.3" r="5.5"/><circle cx="181.2" cy="432.1" r="5.5"/><circle cx="182.9" cy="432.0" r="5.5"/><circle cx="184.6" cy="433.0" r="5.5"/><circle cx="186.3" cy="433.6" r="5.5"/><circle cx="188.0" cy="433.3" r="5.5"/><circle cx="189.7" cy="432.2" r="5.5"/><circle cx="191.3" cy="432.6" r="5.5"/><circle cx="193.0" cy="432.8" r="5.5"/><circle cx="194.7" cy="430.8" r="5.5"/><circle cx="196.4" cy="432.2" r="5.5"/><circle cx="198.1" cy="432.7" r="5.5"/><circle cx="199.8" cy="432.3" r="5.5"/><circle cx="201.4" cy="432.1" r="5.5"/><circle cx="203.1" cy="431.2" r="5.5"/><circle cx="204.8" cy="430.3" r="5.5"/><circle cx="206.5" cy="431.8" r="5.5"/><circle cx="208.2" cy="430.5" r="5.5"/><circle cx="209.9" cy="431.6" r="5.5"/><circle cx="211.6" cy="431.9" r="5.5"/><circle cx="213.2" cy="430.3" r="5.5"/><circle cx="214.9" cy="430.2" r="5.5"/><circle cx="216.6" cy="431.5" r="5.5"/><circle cx="218.3" cy="430.8" r="5.5"/><circle cx="220.0" cy="429.2" r="5.5"/><circle cx="221.7" cy="429.0" r="5.5"/><circle cx="223.4" cy="428.9" r="5.5"/><circle cx="225.0" cy="430.8" r="5.5"/><circle cx="226.7" cy="430.4" r="5.5"/><circle cx="228.4" cy="428.6" r="5.5"/><circle cx="230.1" cy="430.2" r="5.5"/><circle cx="231.8" cy="430.5" r="5.5"/><circle cx="233.5" cy="429.5" r="5.5"/><circle cx="235.1" cy="428.6" r="5.5"/><circle cx="236.8" cy="429.0" r="5.5"/><circle cx="238.5" cy="427.8" r="5.5"/><circle cx="240.2" cy="427.4" r="5.5"/><circle cx="241.9" cy="429.7" r="5.5"/><circle cx="243.6" cy="428.8" r="5.5"/><circle cx="245.3" cy="428.4" r="5.5"/><circle cx="246.9" cy="429.6" r="5.5"/><circle cx="248.6" cy="428.5" r="5.5"/><circle cx="250.3" cy="429.8" r="5.5"/><circle cx="252.8" cy="429.7" r="5.5"/><circle cx="254.9" cy="414.7" r="5.5"/><circle cx="256.8" cy="390.5" r="5.5"/><circle cx="260.2" cy="374.2" r="5.5"/><circle cx="261.0" cy="372.1" r="5.5"/><circle cx="259.2" cy="367.8" r="5.5"/><circle cx="263.8" cy="357.5" r="5.5"/><circle cx="266.3" cy="346.1" r="5.5"/><circle cx="268.8" cy="343.3" r="5.5"/><circle cx="269.5" cy="339.7" r="5.5"/><circle cx="271.4" cy="338.1" r="5.5"/><circle cx="271.1" cy="334.6" r="5.5"/><circle cx="271.7" cy="331.2" r="5.5"/><circle cx="271.5" cy="329.2" r="5.5"/><circle cx="273.8" cy="325.9" r="5.5"/><circle cx="274.5" cy="323.7" r="5.5"/><circle cx="275.5" cy="320.0" r="5.5"/><circle cx="276.7" cy="317.0" r="5.5"/><circle cx="277.0" cy="315.2" r="5.5"/><circle cx="277.2" cy="313.5" r="5.5"/><circle cx="280.0" cy="309.5" r="5.5"/><circle cx="280.7" cy="306.9" r="5.5"/><circle cx="283.4" cy="304.5" r="5.5"/><circle cx="285.1" cy="306.1" r="5.5"/><circle cx="287.7" cy="308.8" r="5.5"/><circle cx="290.0" cy="309.0" r="5.5"/><circle cx="291.0" cy="306.5" r="5.5"/><circle cx="294.0" cy="305.6" r="5.5"/><circle cx="295.5" cy="308.2" r="5.5"/><circle cx="298.3" cy="309.9" r="5.5"/><circle cx="299.3" cy="307.6" r="5.5"/><circle cx="301.5" cy="305.0" r="5.5"/><circle cx="302.8" cy="302.2" r="5.5"/><circle cx="304.7" cy="301.3" r="5.5"/><circle cx="305.4" cy="298.8" r="5.5"/><circle cx="308.0" cy="298.0" r="5.5"/><circle cx="310.6" cy="296.5" r="5.5"/><circle cx="311.0" cy="295.0" r="5.5"/><circle cx="313.3" cy="292.8" r="5.5"/><circle cx="314.7" cy="292.7" r="5.5"/><circle cx="317.2" cy="400.8" r="5.5"/><circle cx="318.8" cy="430.5" r="5.5"/><circle cx="320.2" cy="451.0" r="5.5"/><circle cx="320.3" cy="450.2" r="5.5"/><circle cx="322.0" cy="447.2" r="5.5"/><circle cx="323.7" cy="446.7" r="5.5"/><circle cx="325.4" cy="446.1" r="5.5"/><circle cx="327.1" cy="445.4" r="5.5"/><circle cx="328.8" cy="445.7" r="5.5"/><circle cx="330.0" cy="449.0" r="5.5"/><circle cx="332.5" cy="446.4" r="5.5"/><circle cx="332.2" cy="444.0" r="5.5"/><circle cx="333.9" cy="442.6" r="5.5"/><circle cx="335.6" cy="444.2" r="5.5"/><circle cx="337.3" cy="442.0" r="5.5"/><circle cx="339.0" cy="441.7" r="5.5"/><circle cx="340.7" cy="441.5" r="5.5"/><circle cx="342.4" cy="441.8" r="5.5"/><circle cx="344.1" cy="439.9" r="5.5"/><circle cx="345.0" cy="443.0" r="5.5"/><circle cx="345.2" cy="440.1" r="5.5"/><circle cx="347.5" cy="439.0" r="5.5"/><circle cx="349.2" cy="438.5" r="5.5"/><circle cx="350.8" cy="437.9" r="5.5"/><circle cx="352.5" cy="435.9" r="5.5"/><circle cx="354.2" cy="436.6" r="5.5"/><circle cx="355.9" cy="435.3" r="5.5"/><circle cx="357.6" cy="434.2" r="5.5"/><circle cx="359.3" cy="435.9" r="5.5"/><circle cx="361.0" cy="433.7" r="5.5"/><circle cx="362.7" cy="434.2" r="5.5"/><circle cx="364.4" cy="434.6" r="5.5"/><circle cx="366.1" cy="433.8" r="5.5"/><circle cx="367.8" cy="432.8" r="5.5"/><circle cx="369.5" cy="433.0" r="5.5"/><circle cx="371.2" cy="432.8" r="5.5"/><circle cx="372.9" cy="433.1" r="5.5"/><circle cx="374.6" cy="430.9" r="5.5"/><circle cx="376.3" cy="431.8" r="5.5"/><circle cx="378.0" cy="430.6" r="5.5"/><circle cx="381.0" cy="431.6" r="5.5"/><circle cx="380.4" cy="428.1" r="5.5"/><circle cx="381.0" cy="424.7" r="5.5"/><circle cx="382.7" cy="422.4" r="5.5"/><circle cx="385.0" cy="411.0" r="5.5"/><circle cx="380.0" cy="396.7" r="5.5"/><circle cx="385.3" cy="387.0" r="5.5"/><circle cx="387.1" cy="376.3" r="5.5"/><circle cx="388.9" cy="365.6" r="5.5"/><circle cx="389.8" cy="355.0" r="5.5"/><circle cx="389.7" cy="352.2" r="5.5"/><circle cx="392.1" cy="349.7" r="5.5"/><circle cx="391.6" cy="346.0" r="5.5"/><circle cx="393.7" cy="334.8" r="5.5"/><circle cx="395.1" cy="337.1" r="5.5"/><circle cx="396.5" cy="334.0" r="5.5"/><circle cx="398.4" cy="331.0" r="5.5"/><circle cx="400.0" cy="328.5" r="5.5"/><circle cx="401.2" cy="324.4" r="5.5"/><circle cx="402.7" cy="324.0" r="5.5"/><circle cx="405.0" cy="319.8" r="5.5"/><circle cx="405.2" cy="317.3" r="5.5"/><circle cx="407.8" cy="315.8" r="5.5"/><circle cx="408.7" cy="312.3" r="5.5"/><circle cx="409.6" cy="308.8" r="5.5"/><circle cx="411.3" cy="306.2" r="5.5"/><circle cx="413.7" cy="303.6" r="5.5"/><circle cx="415.2" cy="302.4" r="5.5"/><circle cx="417.9" cy="299.7" r="5.5"/><circle cx="418.6" cy="296.2" r="5.5"/><circle cx="421.0" cy="294.0" r="5.5"/><circle cx="421.6" cy="291.3" r="5.5"/><circle cx="424.9" cy="291.2" r="5.5"/><circle cx="428.0" cy="292.0" r="5.5"/><circle cx="430.1" cy="295.2" r="5.5"/><circle cx="431.1" cy="296.2" r="5.5"/><circle cx="432.7" cy="294.3" r="5.5"/><circle cx="433.0" cy="291.7" r="5.5"/><circle cx="436.1" cy="289.9" r="5.5"/><circle cx="439.0" cy="288.0" r="5.5"/><circle cx="442.3" cy="286.2" r="5.5"/><circle cx="444.8" cy="288.5" r="5.5"/><circle cx="445.0" cy="289.0" r="5.5"/><circle cx="447.7" cy="292.0" r="5.5"/><circle cx="448.5" cy="292.4" r="5.5"/><circle cx="449.1" cy="384.2" r="5.5"/><circle cx="451.4" cy="446.5" r="5.5"/><circle cx="453.0" cy="444.4" r="5.5"/><circle cx="454.7" cy="444.6" r="5.5"/><circle cx="456.4" cy="442.8" r="5.5"/><circle cx="458.1" cy="441.8" r="5.5"/><circle cx="459.7" cy="441.1" r="5.5"/><circle cx="461.4" cy="441.0" r="5.5"/><circle cx="463.1" cy="439.3" r="5.5"/><circle cx="464.8" cy="439.2" r="5.5"/><circle cx="466.5" cy="438.5" r="5.5"/><circle cx="468.2" cy="438.0" r="5.5"/><circle cx="469.9" cy="438.0" r="5.5"/><circle cx="471.5" cy="436.9" r="5.5"/><circle cx="473.2" cy="436.6" r="5.5"/><circle cx="474.9" cy="436.0" r="5.5"/><circle cx="476.6" cy="436.8" r="5.5"/><circle cx="478.3" cy="435.8" r="5.5"/><circle cx="480.0" cy="435.8" r="5.5"/><circle cx="481.7" cy="435.6" r="5.5"/><circle cx="483.3" cy="433.4" r="5.5"/><circle cx="485.0" cy="433.8" r="5.5"/><circle cx="486.7" cy="434.4" r="5.5"/><circle cx="488.4" cy="433.8" r="5.5"/><circle cx="490.1" cy="431.5" r="5.5"/><circle cx="491.8" cy="431.1" r="5.5"/><circle cx="493.5" cy="431.5" r="5.5"/><circle cx="495.1" cy="430.2" r="5.5"/><circle cx="496.8" cy="430.2" r="5.5"/><circle cx="498.5" cy="429.4" r="5.5"/><circle cx="500.2" cy="430.6" r="5.5"/><circle cx="501.9" cy="430.5" r="5.5"/><circle cx="503.6" cy="430.4" r="5.5"/><circle cx="505.3" cy="428.1" r="5.5"/><circle cx="506.9" cy="429.4" r="5.5"/><circle cx="508.6" cy="429.2" r="5.5"/><circle cx="510.3" cy="427.7" r="5.5"/><circle cx="512.0" cy="429.5" r="5.5"/><circle cx="512.6" cy="431.0" r="5.5"/><circle cx="513.7" cy="434.8" r="5.5"/><circle cx="516.0" cy="437.3" r="5.5"/><circle cx="517.2" cy="435.4" r="5.5"/><circle cx="517.3" cy="431.0" r="5.5"/><circle cx="518.5" cy="411.7" r="5.5"/><circle cx="521.2" cy="390.9" r="5.5"/><circle cx="523.6" cy="371.0" r="5.5"/><circle cx="524.9" cy="368.3" r="5.5"/><circle cx="524.9" cy="364.7" r="5.5"/><circle cx="526.1" cy="353.5" r="5.5"/><circle cx="527.3" cy="350.1" r="5.5"/><circle cx="527.1" cy="345.6" r="5.5"/><circle cx="527.4" cy="343.6" r="5.5"/><circle cx="529.9" cy="332.4" r="5.5"/><circle cx="531.7" cy="329.0" r="5.5"/><circle cx="532.0" cy="327.0" r="5.5"/><circle cx="534.6" cy="325.1" r="5.5"/><circle cx="534.9" cy="322.4" r="5.5"/><circle cx="535.4" cy="319.7" r="5.5"/><circle cx="537.0" cy="319.0" r="5.5"/><circle cx="537.7" cy="318.0" r="5.5"/><circle cx="539.8" cy="316.2" r="5.5"/><circle cx="542.2" cy="313.9" r="5.5"/><circle cx="543.4" cy="313.8" r="5.5"/><circle cx="544.1" cy="312.6" r="5.5"/><circle cx="547.3" cy="311.2" r="5.5"/><circle cx="549.4" cy="309.3" r="5.5"/><circle cx="551.0" cy="308.0" r="5.5"/><circle cx="552.1" cy="306.8" r="5.5"/><circle cx="554.8" cy="305.0" r="5.5"/><circle cx="556.9" cy="303.6" r="5.5"/><circle cx="560.0" cy="302.0" r="5.5"/><circle cx="560.6" cy="300.4" r="5.5"/><circle cx="564.0" cy="300.0" r="5.5"/><circle cx="567.0" cy="298.5" r="5.5"/><circle cx="570.4" cy="296.9" r="5.5"/><circle cx="572.1" cy="296.7" r="5.5"/><circle cx="574.0" cy="294.0" r="5.5"/><circle cx="576.0" cy="292.0" r="5.5"/><circle cx="578.8" cy="290.1" r="5.5"/><circle cx="580.5" cy="310.4" r="5.5"/><circle cx="582.2" cy="445.4" r="5.5"/><circle cx="584.0" cy="446.2" r="5.5"/><circle cx="585.7" cy="443.4" r="5.5"/><circle cx="587.4" cy="444.5" r="5.5"/><circle cx="589.2" cy="442.2" r="5.5"/><circle cx="590.9" cy="441.7" r="5.5"/><circle cx="592.6" cy="442.6" r="5.5"/><circle cx="594.3" cy="441.7" r="5.5"/><circle cx="596.1" cy="439.5" r="5.5"/><circle cx="597.8" cy="439.7" r="5.5"/><circle cx="599.5" cy="439.5" r="5.5"/><circle cx="601.2" cy="438.6" r="5.5"/><circle cx="602.9" cy="437.8" r="5.5"/><circle cx="604.7" cy="437.7" r="5.5"/><circle cx="606.4" cy="438.3" r="5.5"/><circle cx="608.1" cy="436.1" r="5.5"/><circle cx="609.8" cy="437.1" r="5.5"/><circle cx="611.6" cy="436.4" r="5.5"/><circle cx="613.3" cy="434.9" r="5.5"/><circle cx="615.0" cy="435.3" r="5.5"/><circle cx="616.7" cy="435.6" r="5.5"/><circle cx="618.4" cy="434.9" r="5.5"/><circle cx="620.2" cy="433.3" r="5.5"/><circle cx="621.9" cy="435.4" r="5.5"/><circle cx="623.6" cy="434.6" r="5.5"/><circle cx="625.3" cy="434.7" r="5.5"/><circle cx="627.1" cy="432.1" r="5.5"/><circle cx="628.8" cy="432.2" r="5.5"/><circle cx="630.5" cy="431.3" r="5.5"/><circle cx="632.2" cy="432.9" r="5.5"/><circle cx="633.9" cy="431.3" r="5.5"/><circle cx="635.7" cy="430.6" r="5.5"/><circle cx="637.4" cy="431.0" r="5.5"/><circle cx="639.1" cy="432.0" r="5.5"/><circle cx="640.8" cy="431.4" r="5.5"/><circle cx="642.6" cy="429.6" r="5.5"/><circle cx="644.3" cy="429.0" r="5.5"/><circle cx="646.0" cy="430.7" r="5.5"/><circle cx="647.8" cy="418.4" r="5.5"/><circle cx="649.2" cy="409.1" r="5.5"/><circle cx="651.4" cy="381.0" r="5.5"/><circle cx="652.3" cy="379.6" r="5.5"/><circle cx="652.3" cy="375.3" r="5.5"/><circle cx="652.8" cy="373.5" r="5.5"/><circle cx="653.7" cy="358.4" r="5.5"/><circle cx="656.2" cy="346.0" r="5.5"/><circle cx="658.6" cy="334.7" r="5.5"/><circle cx="658.7" cy="333.1" r="5.5"/><circle cx="660.8" cy="328.4" r="5.5"/><circle cx="661.1" cy="326.0" r="5.5"/><circle cx="661.2" cy="323.5" r="5.5"/><circle cx="664.0" cy="321.0" r="5.5"/><circle cx="666.2" cy="318.9" r="5.5"/><circle cx="667.4" cy="317.3" r="5.5"/><circle cx="668.0" cy="315.6" r="5.5"/><circle cx="670.0" cy="313.0" r="5.5"/><circle cx="673.0" cy="310.0" r="5.5"/><circle cx="673.6" cy="308.6" r="5.5"/><circle cx="673.5" cy="306.3" r="5.5"/><circle cx="676.0" cy="305.0" r="5.5"/><circle cx="677.7" cy="303.0" r="5.5"/><circle cx="679.8" cy="299.9" r="5.5"/><circle cx="683.0" cy="298.0" r="5.5"/><circle cx="686.1" cy="296.1" r="5.5"/><circle cx="686.4" cy="294.2" r="5.5"/><circle cx="689.1" cy="290.7" r="5.5"/><circle cx="689.6" cy="288.0" r="5.5"/><circle cx="690.5" cy="288.1" r="5.5"/><circle cx="693.0" cy="285.5" r="5.5"/><circle cx="694.2" cy="285.1" r="5.5"/><circle cx="696.5" cy="283.0" r="5.5"/><circle cx="698.1" cy="280.4" r="5.5"/><circle cx="701.3" cy="279.4" r="5.5"/><circle cx="703.9" cy="275.6" r="5.5"/><circle cx="705.0" cy="273.0" r="5.5"/><circle cx="707.5" cy="270.7" r="5.5"/><circle cx="707.5" cy="268.5" r="5.5"/><circle cx="704.6" cy="264.9" r="5.5"/><circle cx="703.5" cy="262.9" r="5.5"/><circle cx="705.5" cy="261.9" r="5.5"/><circle cx="708.0" cy="260.0" r="5.5"/><circle cx="711.8" cy="258.1" r="5.5"/><circle cx="713.0" cy="258.1" r="5.5"/><circle cx="714.2" cy="378.9" r="5.5"/><circle cx="715.1" cy="450.9" r="5.5"/><circle cx="715.8" cy="447.2" r="5.5"/><circle cx="717.0" cy="445.2" r="5.5"/><circle cx="718.7" cy="443.8" r="5.5"/><circle cx="720.4" cy="440.5" r="5.5"/><circle cx="722.1" cy="438.7" r="5.5"/><circle cx="723.8" cy="438.7" r="5.5"/><circle cx="725.5" cy="436.7" r="5.5"/><circle cx="727.2" cy="435.3" r="5.5"/><circle cx="728.9" cy="437.1" r="5.5"/><circle cx="730.6" cy="435.9" r="5.5"/><circle cx="732.3" cy="435.9" r="5.5"/><circle cx="734.0" cy="433.5" r="5.5"/><circle cx="735.7" cy="435.1" r="5.5"/><circle cx="737.4" cy="432.6" r="5.5"/><circle cx="739.1" cy="434.2" r="5.5"/><circle cx="740.8" cy="432.7" r="5.5"/><circle cx="742.5" cy="432.0" r="5.5"/><circle cx="744.2" cy="432.1" r="5.5"/><circle cx="745.9" cy="432.6" r="5.5"/><circle cx="747.6" cy="430.4" r="5.5"/><circle cx="749.3" cy="429.6" r="5.5"/><circle cx="751.0" cy="430.3" r="5.5"/><circle cx="752.7" cy="429.2" r="5.5"/><circle cx="754.4" cy="428.6" r="5.5"/><circle cx="756.1" cy="428.4" r="5.5"/><circle cx="757.8" cy="427.8" r="5.5"/><circle cx="759.5" cy="427.8" r="5.5"/><circle cx="761.2" cy="427.8" r="5.5"/><circle cx="762.9" cy="427.5" r="5.5"/><circle cx="764.6" cy="428.3" r="5.5"/><circle cx="766.3" cy="426.8" r="5.5"/><circle cx="768.2" cy="428.0" r="5.5"/><circle cx="767.5" cy="431.3" r="5.5"/></g>
</g><rect x="172.2" y="23.7" width="600.4000000000001" height="443.90000000000003" fill="none" stroke="#000" stroke-width="2.4"/>
<path d="M172.2 467.6V458.6M255.6 467.6V458.6M339.0 467.6V458.6M422.5 467.6V458.6M505.9 467.6V458.6M589.3 467.6V458.6M672.7 467.6V458.6M756.1 467.6V458.6M213.9 467.6V462.6M297.3 467.6V462.6M380.7 467.6V462.6M464.2 467.6V462.6M547.6 467.6V462.6M631.0 467.6V462.6M714.4 467.6V462.6M172.2 409.0H181.8M172.2 343.7H181.8M172.2 278.4H181.8M172.2 213.1H181.8M172.2 147.8H181.8M172.2 82.5H181.8M172.2 441.7H177.2M172.2 376.4H177.2M172.2 311.1H177.2M172.2 245.8H177.2M172.2 180.5H177.2M172.2 115.2H177.2M172.2 49.9H177.2" stroke="#000" stroke-width="2.3" fill="none"/>
<text x="172.2" y="501" font-size="31" text-anchor="middle">0</text><text x="255.6" y="501" font-size="31" text-anchor="middle">25</text><text x="339.0" y="501" font-size="31" text-anchor="middle">50</text><text x="422.5" y="501" font-size="31" text-anchor="middle">75</text><text x="505.9" y="501" font-size="31" text-anchor="middle">100</text><text x="589.3" y="501" font-size="31" text-anchor="middle">125</text><text x="672.7" y="501" font-size="31" text-anchor="middle">150</text><text x="756.1" y="501" font-size="31" text-anchor="middle">175</text><text x="163" y="419.9" font-size="31" text-anchor="end" letter-spacing="-0.2">2.0x10<tspan font-size="16.5" dy="-14" dx="1">-4</tspan></text><text x="163" y="354.6" font-size="31" text-anchor="end" letter-spacing="-0.2">4.0x10<tspan font-size="16.5" dy="-14" dx="1">-4</tspan></text><text x="163" y="289.3" font-size="31" text-anchor="end" letter-spacing="-0.2">6.0x10<tspan font-size="16.5" dy="-14" dx="1">-4</tspan></text><text x="163" y="224.0" font-size="31" text-anchor="end" letter-spacing="-0.2">8.0x10<tspan font-size="16.5" dy="-14" dx="1">-4</tspan></text><text x="163" y="158.7" font-size="31" text-anchor="end" letter-spacing="-0.2">1.0x10<tspan font-size="16.5" dy="-14" dx="1">-3</tspan></text><text x="163" y="93.4" font-size="31" text-anchor="end" letter-spacing="-0.2">1.2x10<tspan font-size="16.5" dy="-14" dx="1">-3</tspan></text><text x="387" y="546.6" font-size="39" letter-spacing="0.2">Time (s)</text><text transform="translate(46.3,339) rotate(-90)" font-size="39">Current (A)</text><path d="M192.2 62.1H263.3" stroke="#8000ff" stroke-width="3.4" stroke-linecap="round"/><circle cx="227.6" cy="62" r="5.4" fill="#8000ff"/><path d="M192.2 101.3H263.3" stroke="#00837f" stroke-width="3.4" stroke-linecap="round"/><circle cx="227.6" cy="101.2" r="5.4" fill="#00837f"/><text x="272" y="73" font-size="32.5">large bending</text><text x="272" y="112.3" font-size="32.5">small bending</text>
</svg>
</body></html>
